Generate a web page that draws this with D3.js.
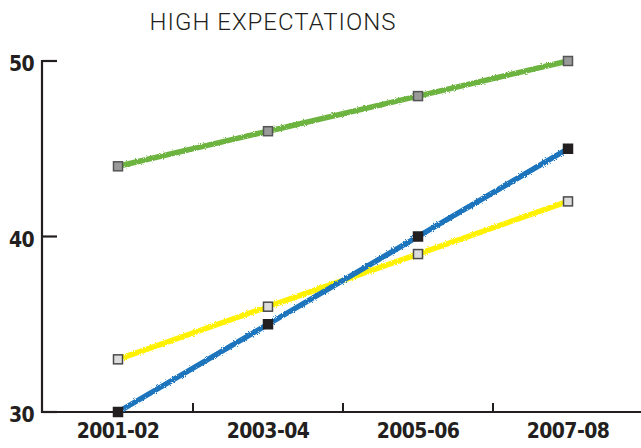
<!DOCTYPE html>
<html>
<head>
<meta charset="utf-8">
<script src="https://cdn.jsdelivr.net/npm/d3@7"></script>
<style>
  body { margin: 0; background: #fff; }
  .title { font-family: Roboto, "Liberation Sans", sans-serif; font-weight: 300; font-size: 24px; letter-spacing: 1px; fill: #231f20; }
  .lbl { font-family: "Liberation Sans Narrow", "DejaVu Sans Condensed", sans-serif; font-weight: bold; font-size: 21px; letter-spacing: -0.6px; fill: #231f20; }
</style>
</head>
<body>
<svg id="chart"></svg>
<script>
const periods = ["2001-02", "2003-04", "2005-06", "2007-08"];
const greenValues = [44, 46, 48, 50];
const blueValues = [30, 35, 40, 45];
const yellowValues = [33, 36, 39, 42];
const yTicks = [30, 40, 50];

const series = [
  { name: "green", values: greenValues, color: "#6cb33f", marker: "#9a9a9a", markerStroke: "#555" },
  { name: "yellow", values: yellowValues, color: "#fff200", marker: "#dcdcdc", markerStroke: "#4a4a4a" },
  { name: "blue", values: blueValues, color: "#1b75bc", marker: "#231f20", markerStroke: "#231f20" }
];

const width = 641, height = 448;
const svg = d3.select("#chart").attr("width", width).attr("height", height);

// rough crayon-like edge
const filter = svg.append("defs").append("filter").attr("id", "rough")
  .attr("x", "-5%").attr("y", "-20%").attr("width", "110%").attr("height", "140%");
filter.append("feTurbulence").attr("type", "fractalNoise").attr("baseFrequency", 0.9).attr("numOctaves", 2).attr("result", "noise");
filter.append("feDisplacementMap").attr("in", "SourceGraphic").attr("in2", "noise").attr("scale", 3);

const xScale = d3.scaleBand().domain(periods).range([43, 643]);
const yScale = d3.scaleLinear().domain([30, 50]).range([412, 61]);
const xc = d => xScale(d) + xScale.bandwidth() / 2;

svg.append("text").attr("class", "title")
  .attr("x", 273).attr("y", 30).attr("text-anchor", "middle")
  .text("HIGH EXPECTATIONS");

// axes
const axisColor = "#231f20";
svg.append("line").attr("x1", 42).attr("x2", 42).attr("y1", 60).attr("y2", 413)
  .attr("stroke", axisColor).attr("stroke-width", 2.2);
svg.append("line").attr("x1", 41).attr("x2", 641).attr("y1", 412).attr("y2", 412)
  .attr("stroke", axisColor).attr("stroke-width", 2.2);

svg.selectAll(".ytick").data(yTicks).join("line")
  .attr("x1", 42).attr("x2", 57)
  .attr("y1", d => yScale(d)).attr("y2", d => yScale(d))
  .attr("stroke", axisColor).attr("stroke-width", 2.2);

svg.selectAll(".ylabel").data(yTicks).join("text").attr("class", "lbl")
  .attr("x", 34).attr("y", d => yScale(d) + 10).attr("text-anchor", "end")
  .text(d => d);

svg.selectAll(".xtick").data(periods.slice(1)).join("line")
  .attr("x1", d => xScale(d)).attr("x2", d => xScale(d))
  .attr("y1", 412).attr("y2", 403)
  .attr("stroke", axisColor).attr("stroke-width", 2);

svg.selectAll(".xlabel").data(periods).join("text").attr("class", "lbl")
  .attr("x", d => xc(d)).attr("y", 438).attr("text-anchor", "middle")
  .text(d => d);

// lines
const line = d3.line()
  .x((d, i) => xc(periods[i]))
  .y(d => yScale(d));

svg.selectAll(".series").data(series).join("path")
  .attr("d", d => line(d.values))
  .attr("fill", "none")
  .attr("stroke", d => d.color)
  .attr("stroke-width", 5.5)
  .attr("filter", "url(#rough)");

// markers
const m = 9;
series.forEach(s => {
  svg.selectAll(".mk-" + s.name).data(s.values).join("rect")
    .attr("x", (d, i) => xc(periods[i]) - m / 2)
    .attr("y", d => yScale(d) - m / 2)
    .attr("width", m).attr("height", m)
    .attr("fill", s.marker)
    .attr("stroke", s.markerStroke)
    .attr("stroke-width", 1.5);
});
</script>
</body>
</html>
